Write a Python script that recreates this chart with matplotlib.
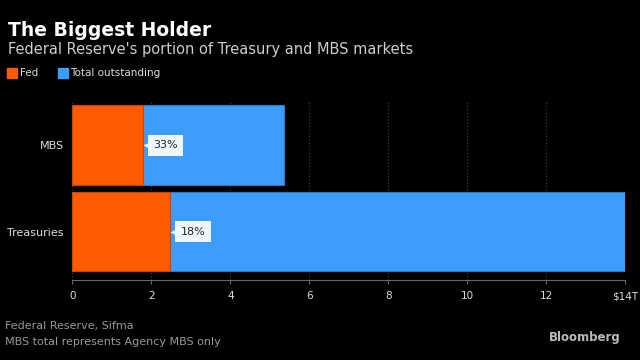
import matplotlib
matplotlib.use("Agg")
import matplotlib.pyplot as plt

categories = ["Treasuries", "MBS"]
fed = [2.47, 1.78]
total = [14.0, 5.35]
pct_labels = ["18%", "33%"]
xticks = [0, 2, 4, 6, 8, 10, 12, 14]
xticklabels = ["0", "2", "4", "6", "8", "10", "12", "$14T"]

ORANGE = "#ff5a00"
BLUE = "#3d9dfa"

fig = plt.figure(figsize=(6.4, 3.6), dpi=100, facecolor="black")
ax = fig.add_axes([0.113, 0.222, 0.864, 0.495], facecolor="black")

ypos = list(range(len(categories)))
ax.barh(ypos, total, height=0.92, color=BLUE, edgecolor="#2a78c8", linewidth=0.8, zorder=2)
ax.barh(ypos, fed, height=0.92, color=ORANGE, edgecolor="#c84400", linewidth=0.8, zorder=3)

for y, f, lab in zip(ypos, fed, pct_labels):
    ax.annotate(lab, xy=(f, y), xytext=(f + 0.27, y), textcoords="data",
                va="center", ha="left", fontsize=8, color="#222222",
                bbox=dict(boxstyle="square,pad=0.5", fc="#eef6ff", ec="none"),
                zorder=5)
    ax.plot([f + 0.09], [y], marker="<", markersize=4.5, color="#eef6ff", zorder=6, mec="none")

ax.set_xlim(0, 14)
ax.set_ylim(-0.56, 1.5)
ax.set_xticks(xticks)
ax.set_xticklabels(xticklabels)
ax.set_yticks(ypos)
ax.set_yticklabels(categories)
ax.tick_params(axis="x", colors="#666666", labelcolor="#dddddd", labelsize=7.5, length=3, pad=5)
ax.tick_params(axis="y", length=0, labelcolor="#dddddd", labelsize=8, pad=6)
ax.grid(axis="x", color="#444444", linestyle=(0, (1, 2)), linewidth=0.8, zorder=0)
for s in ["top", "right", "left"]:
    ax.spines[s].set_visible(False)
ax.spines["bottom"].set_color("#666666")

fig.text(0.012, 0.915, "The Biggest Holder", color="white", fontsize=13.5, fontweight="bold", ha="left", va="center")
fig.text(0.012, 0.862, "Federal Reserve's portion of Treasury and MBS markets", color="#cccccc", fontsize=10.5, ha="left", va="center")

# legend
fig.patches.append(matplotlib.patches.Rectangle((0.011, 0.783), 0.016, 0.028, transform=fig.transFigure, color=ORANGE))
fig.text(0.031, 0.797, "Fed", color="#dddddd", fontsize=7.5, ha="left", va="center")
fig.patches.append(matplotlib.patches.Rectangle((0.09, 0.783), 0.016, 0.028, transform=fig.transFigure, color=BLUE))
fig.text(0.110, 0.797, "Total outstanding", color="#dddddd", fontsize=7.5, ha="left", va="center")

fig.text(0.008, 0.095, "Federal Reserve, Sifma", color="#999999", fontsize=8, ha="left", va="center")
fig.text(0.008, 0.05, "MBS total represents Agency MBS only", color="#999999", fontsize=8, ha="left", va="center")
fig.text(0.97, 0.062, "Bloomberg", color="#bbbbbb", fontsize=8.5, fontweight="bold", ha="right", va="center")

fig.savefig("out.png", dpi=100, facecolor="black")
